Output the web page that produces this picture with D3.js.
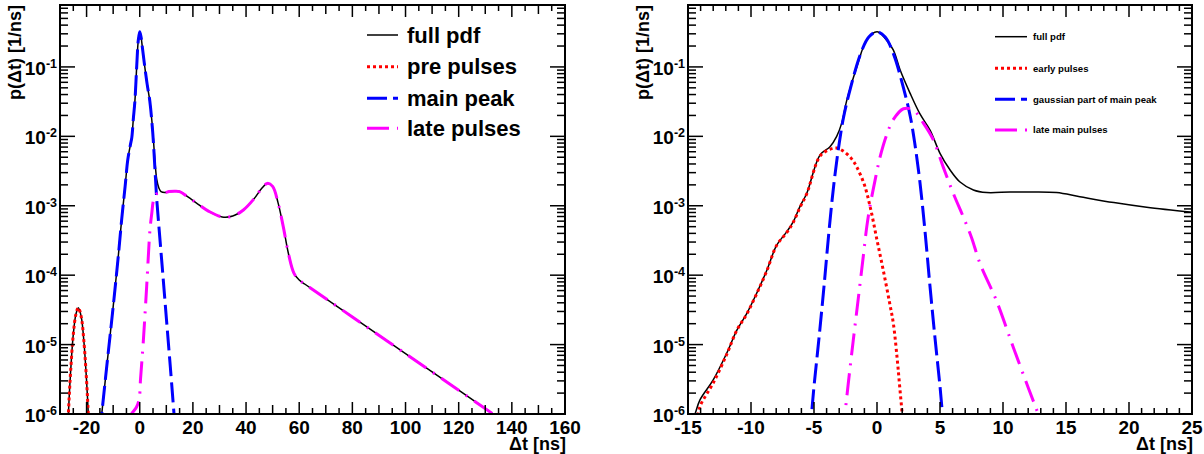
<!DOCTYPE html>
<html><head><meta charset="utf-8">
<script src="https://cdn.jsdelivr.net/npm/d3@7"></script>
<style>
body{margin:0;background:#fff}
svg{display:block}
text{font-family:"Liberation Sans",Arial,Helvetica,sans-serif;font-weight:bold;fill:#000}
</style>
</head><body>
<svg id="chart" width="1204" height="454"></svg>
<script>
// ---------------- data ----------------
const yDecades = [-6, -5, -4, -3, -2, -1];
const leftXTicks = [-20, 0, 20, 40, 60, 80, 100, 120, 140, 160];
const rightXTicks = [-15, -10, -5, 0, 5, 10, 15, 20, 25];
const leftLegend = ["full pdf", "pre pulses", "main peak", "late pulses"];
const rightLegend = ["full pdf", "early pulses", "gaussian part of main peak", "late main pulses"];
const xTitle = "\u0394t [ns]";
const yTitle = "p(\u0394t) [1/ns]";

// left panel series: [t (ns), p (1/ns)]
const leftFull = [[-28.5,5e-8],[-27.5,2.6e-7],[-27,7.4e-7],[-26.5,1.9e-6],[-26,4.1e-6],[-25,1.4e-5],[-24,2.75e-5],[-23.1,3.4e-5],[-22,2.5e-5],[-21,1.1e-5],[-20,3.0e-6],[-19.5,1.3e-6],[-19,5.0e-7],[-18,6e-8],[-17,1e-8],[-16,6e-8],[-15,5.6e-7],[-14.3,1e-6],[-12.5,4.5e-6],[-10,3.5e-5],[-8,2.0e-4],[-6.8,6.3e-4],[-5.5,1.9e-3],[-4.5,4.6e-3],[-3.5,7.6e-3],[-3,9.5e-3],[-2.4,1.8e-2],[-1.8,3.3e-2],[-1.15,1.0e-1],[-0.55,2.4e-1],[0,3.2e-1],[0.5,2.7e-1],[1.0,1.9e-1],[1.9,1.0e-1],[2.8,5.6e-2],[3.8,3.2e-2],[4.9,1.2e-2],[5.7,4.5e-3],[6.4,2.4e-3],[7.2,1.8e-3],[8,1.6e-3],[9.5,1.55e-3],[11,1.6e-3],[13,1.62e-3],[15,1.6e-3],[18,1.35e-3],[22,1.05e-3],[26,8.3e-4],[31,6.9e-4],[35,7.1e-4],[39,8.7e-4],[43,1.26e-3],[46,1.8e-3],[48,2.1e-3],[50,1.9e-3],[52,1.12e-3],[54,5.0e-4],[56,2.0e-4],[58,1.07e-4],[60,8.5e-5],[62.2,7.4e-5],[80,2.5e-5],[100,7.4e-6],[120,2.2e-6],[136,8.3e-7]];
const leftPre = [[-27.5,2.6e-7],[-27,7.4e-7],[-26.5,1.9e-6],[-26,4.1e-6],[-25,1.4e-5],[-24,2.75e-5],[-23.1,3.4e-5],[-22,2.5e-5],[-21,1.1e-5],[-20,3.0e-6],[-19.5,1.3e-6],[-19,5.0e-7]];
const leftMain = [[-15,5.6e-7],[-14.3,1e-6],[-12.5,4.5e-6],[-10,3.5e-5],[-8,2.0e-4],[-6.8,6.3e-4],[-5.5,1.9e-3],[-4.5,4.6e-3],[-3.5,7.6e-3],[-3,9.5e-3],[-2.4,1.8e-2],[-1.8,3.3e-2],[-1.15,1.0e-1],[-0.55,2.4e-1],[0,3.2e-1],[0.5,2.7e-1],[1.0,1.9e-1],[1.9,1.0e-1],[2.8,5.6e-2],[3.8,3.2e-2],[4.9,1.12e-2],[5.7,3.5e-3],[6.3,1.4e-3],[7.0,6.3e-4],[8.5,1.26e-4],[10.1,2.2e-5],[11.5,4.8e-6],[12.9,1e-6],[13.5,5e-7]];
const leftLate = [[-4,8e-7],[-3.1,1e-6],[-1.2,1.26e-6],[-0.2,1.66e-6],[0.3,3.2e-6],[1.3,1.05e-5],[2.6,6.8e-5],[3.85,4.5e-4],[4.5,7.6e-4],[5.3,1.26e-3],[6.3,1.48e-3],[8,1.55e-3],[9.5,1.55e-3],[11,1.6e-3],[13,1.62e-3],[15,1.6e-3],[18,1.35e-3],[22,1.05e-3],[26,8.3e-4],[31,6.9e-4],[35,7.1e-4],[39,8.7e-4],[43,1.26e-3],[46,1.8e-3],[48,2.1e-3],[50,1.9e-3],[52,1.12e-3],[54,5.0e-4],[56,2.0e-4],[58,1.07e-4],[60,8.5e-5],[62.2,7.4e-5],[80,2.5e-5],[100,7.4e-6],[120,2.2e-6],[136,8.3e-7]];

// right panel series
const rightFull = [[-14.8,6.3e-7],[-14.44,1.0e-6],[-14.05,1.6e-6],[-13.0,3.1e-6],[-11.93,7.5e-6],[-11.13,1.6e-5],[-10.34,2.8e-5],[-9.55,5.5e-5],[-8.75,1.17e-4],[-7.96,2.7e-4],[-7.17,4.2e-4],[-6.64,5.9e-4],[-6.11,9.8e-4],[-5.58,1.5e-3],[-4.52,5.4e-3],[-3.73,7.1e-3],[-3.2,1.0e-2],[-2.8,1.55e-2],[-2.4,3.3e-2],[-1.6,1.0e-1],[-0.81,2.45e-1],[0,3.2e-1],[0.63,2.6e-1],[1.29,1.76e-1],[1.83,9.1e-2],[2.62,4.2e-2],[3.41,2.1e-2],[4.21,1.23e-2],[5.0,5.7e-3],[5.79,3.3e-3],[6.59,2.2e-3],[7.65,1.69e-3],[8.7,1.55e-3],[10.56,1.58e-3],[12.14,1.58e-3],[14.25,1.55e-3],[16.1,1.35e-3],[18.8,1.11e-3],[21.4,9.5e-4],[25,8.05e-4]];
const rightEarly = [[-14.4,7.9e-7],[-14.2,1e-6],[-14.0,1.35e-6],[-13.0,2.8e-6],[-11.93,7.2e-6],[-11.13,1.6e-5],[-10.34,2.75e-5],[-9.55,5.4e-5],[-8.75,1.15e-4],[-7.96,2.7e-4],[-7.17,4.1e-4],[-6.64,5.8e-4],[-6.11,9.5e-4],[-5.58,1.48e-3],[-4.52,5.2e-3],[-3.73,6.5e-3],[-3.2,6.8e-3],[-2.6,6.0e-3],[-2.0,4.7e-3],[-1.6,3.6e-3],[-1.0,2.0e-3],[-0.5,8.9e-4],[0,3.2e-4],[0.5,1.17e-4],[1.0,4.0e-5],[1.3,2.0e-5],[1.6,6.3e-6],[1.8,2.5e-6],[2.0,1e-6],[2.1,6.3e-7]];
const rightMain = [[-5.4,5e-7],[-5.2,1e-6],[-5.0,2.5e-6],[-4.6,1.26e-5],[-4.2,7.1e-5],[-3.8,4.5e-4],[-3.4,2.24e-3],[-3.0,7.9e-3],[-2.65,1.9e-2],[-2.1,5.0e-2],[-1.3,1.55e-1],[-0.65,2.7e-1],[0,3.2e-1],[0.65,2.7e-1],[1.3,1.55e-1],[2.1,5.0e-2],[2.65,1.9e-2],[3.0,7.9e-3],[3.4,2.24e-3],[3.8,4.5e-4],[4.2,7.1e-5],[4.6,1.26e-5],[5.0,2.5e-6],[5.2,1e-6],[5.4,5e-7]];
const rightLate = [[-2.7,5e-7],[-2.54,1e-6],[-2.28,2.75e-6],[-1.88,1.17e-5],[-1.48,4.7e-5],[-1.09,1.86e-4],[-0.81,5.0e-4],[-0.56,9.8e-4],[-0.16,2.3e-3],[0.24,5.0e-3],[0.77,1.05e-2],[1.29,1.74e-2],[2.1,2.5e-2],[2.88,2.4e-2],[3.68,1.55e-2],[4.47,8.9e-3],[5.26,3.6e-3],[6.06,1.5e-3],[6.85,6.9e-4],[7.5,3.5e-4],[8.17,1.48e-4],[9.5,4.2e-5],[10.8,9.3e-6],[11.88,2.75e-6],[12.67,1.15e-6],[12.9,8.9e-7]];

// ---------------- styles ----------------
const styles = [
  {stroke:"#000000", width:1.5, dash:null},
  {stroke:"#ff0000", width:3, dash:"3,3"},
  {stroke:"#0000ff", width:3, dash:"20,6"},
  {stroke:"#ff00ff", width:3, dash:"22,8,2,8"}
];

const svg = d3.select("#chart");
const Y0 = 5, Y1 = 414;
const yMin = 1e-6, yMax = 0.78;

const panels = [
  {id:"L", x0:60, x1:565, domain:[-30,160], majorStep:20, midStep:10, minorStep:5, xTicks:leftXTicks,
   series:[leftFull, leftPre, leftMain, leftLate], legend:leftLegend,
   leg:{lx0:367, lx1:398, tx:407, ys:[35,66.7,98.3,128.3], size:22, dy:7.5}},
  {id:"R", x0:688, x1:1192, domain:[-15,25], majorStep:5, midStep:5, minorStep:1, xTicks:rightXTicks,
   series:[rightFull, rightEarly, rightMain, rightLate], legend:rightLegend,
   leg:{lx0:995, lx1:1027, tx:1033, ys:[36.7,68.3,99.3,130], size:9.6, dy:3.4}}
];

function near(a, step){ return Math.abs(a/step - Math.round(a/step)) < 1e-6; }

panels.forEach(p => {
  const x = d3.scaleLinear().domain(p.domain).range([p.x0, p.x1]);
  const y = d3.scaleLog().domain([yMin, yMax]).range([Y1, Y0]);
  const g = svg.append("g");

  g.append("clipPath").attr("id","clip"+p.id)
    .append("rect").attr("x",p.x0).attr("y",Y0).attr("width",p.x1-p.x0).attr("height",Y1-Y0);

  const line = d3.line().x(d=>x(d[0])).y(d=>y(d[1])).curve(d3.curveCatmullRom.alpha(0.5));
  const curves = g.append("g").attr("clip-path","url(#clip"+p.id+")");
  p.series.forEach((s,i)=>{
    const st = styles[i];
    curves.append("path").attr("d", line(s)).attr("fill","none")
      .attr("stroke", st.stroke).attr("stroke-width", st.width)
      .attr("stroke-dasharray", st.dash);
  });

  // x ticks (bottom & top, inward)
  const xt = d3.range(p.domain[0], p.domain[1]+1e-9, p.minorStep);
  xt.forEach(v=>{
    let len = 6;
    if (near(v,p.majorStep)) len = 12; else if (near(v,p.midStep)) len = 9;
    const xx = x(v);
    g.append("line").attr("x1",xx).attr("x2",xx).attr("y1",Y1).attr("y2",Y1-len).attr("stroke","#000").attr("stroke-width",1.5);
    g.append("line").attr("x1",xx).attr("x2",xx).attr("y1",Y0).attr("y2",Y0+len).attr("stroke","#000").attr("stroke-width",1.5);
  });
  p.xTicks.forEach(v=>{
    g.append("text").attr("x", x(v)).attr("y", 433.5).attr("text-anchor","middle")
      .style("font-size","19px").text(v);
  });

  // y ticks (left & right, inward)
  const yt = [];
  yDecades.forEach(d=>{
    for (let k=1;k<=9;k++){ const v = k*Math.pow(10,d); if (v<=yMax) yt.push({v, major:k===1}); }
  });
  yt.forEach(t=>{
    const yy = y(t.v), len = t.major ? 15 : 8;
    g.append("line").attr("x1",p.x0).attr("x2",p.x0+len).attr("y1",yy).attr("y2",yy).attr("stroke","#000").attr("stroke-width",1.5);
    g.append("line").attr("x1",p.x1).attr("x2",p.x1-len).attr("y1",yy).attr("y2",yy).attr("stroke","#000").attr("stroke-width",1.5);
  });
  yDecades.forEach(d=>{
    const t = g.append("text").attr("x", p.x0-3).attr("y", y(Math.pow(10,d))+8).attr("text-anchor","end");
    t.append("tspan").style("font-size","19px").text("10");
    t.append("tspan").attr("dy",-7).style("font-size","12.5px").text(String(d));
  });

  // frame
  g.append("rect").attr("x",p.x0).attr("y",Y0).attr("width",p.x1-p.x0).attr("height",Y1-Y0)
    .attr("fill","none").attr("stroke","#000").attr("stroke-width",2);

  // titles
  g.append("text").attr("x", p.x1+1).attr("y", 450).attr("text-anchor","end")
    .style("font-size","18px").text(xTitle);
  g.append("text").attr("transform","translate("+(p.x0-39)+","+Y0+") rotate(-90)")
    .attr("text-anchor","end").style("font-size","18px").text(yTitle);

  // legend
  p.legend.forEach((name,i)=>{
    const st = styles[i], ly = p.leg.ys[i];
    g.append("line").attr("x1",p.leg.lx0).attr("x2",p.leg.lx1).attr("y1",ly).attr("y2",ly)
      .attr("stroke",st.stroke).attr("stroke-width",st.width).attr("stroke-dasharray",st.dash);
    g.append("text").attr("x",p.leg.tx).attr("y",ly+p.leg.dy).style("font-size",p.leg.size+"px").text(name);
  });
});
</script>
</body></html>
